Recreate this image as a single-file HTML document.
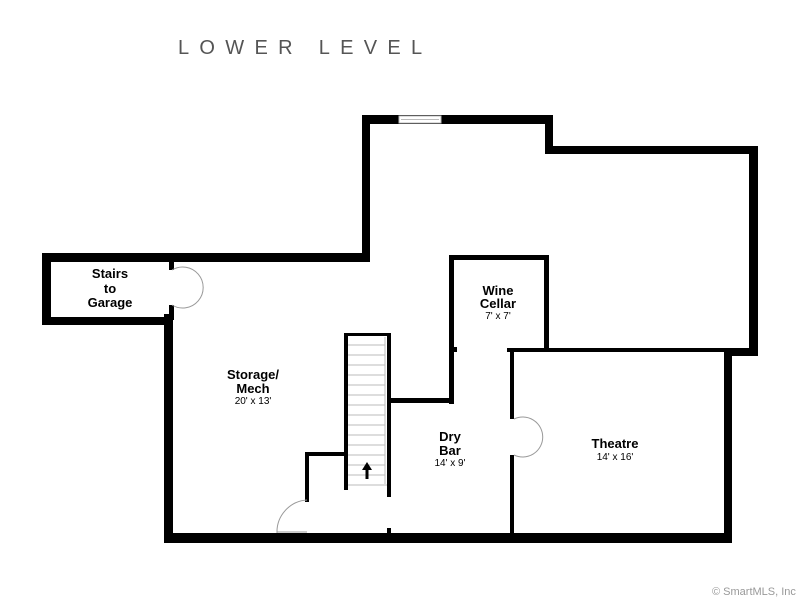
<!DOCTYPE html>
<html><head><meta charset="utf-8"><style>
html,body{margin:0;padding:0;background:#fff;width:800px;height:600px;overflow:hidden}
svg{display:block}
text{font-family:"Liberation Sans",Arial,sans-serif}
</style></head><body>
<svg width="800" height="600" viewBox="0 0 800 600" xmlns="http://www.w3.org/2000/svg">
<rect width="800" height="600" fill="#fff"/>
<text x="178" y="54" font-size="20" fill="#555" letter-spacing="10.3" style="font-family:'Liberation Sans',sans-serif;font-weight:normal">LOWER LEVEL</text>
<g fill="#000">
<rect x="362" y="115" width="191" height="9"/>
<rect x="362" y="115" width="8" height="146"/>
<rect x="545" y="115" width="8" height="39"/>
<rect x="545" y="146" width="213" height="8"/>
<rect x="749" y="146" width="9" height="210"/>
<rect x="724" y="348" width="34" height="8"/>
<rect x="724" y="348" width="8" height="195"/>
<rect x="164" y="533" width="568" height="10"/>
<rect x="164" y="314" width="9" height="229"/>
<rect x="42" y="253" width="328" height="9"/>
<rect x="42" y="253" width="9" height="72"/>
<rect x="42" y="317" width="131" height="8"/>
<rect x="169" y="253" width="5" height="17"/>
<rect x="169" y="305" width="5" height="15"/>
<rect x="449" y="255" width="100" height="5"/>
<rect x="449" y="255" width="5" height="149"/>
<rect x="544" y="255" width="5" height="97"/>
<rect x="454" y="347" width="3" height="5"/>
<rect x="507" y="348" width="220" height="4"/>
<rect x="510" y="348" width="4" height="71"/>
<rect x="510" y="455" width="4" height="80"/>
<rect x="388" y="398" width="66" height="5"/>
<rect x="344" y="333" width="4" height="157"/>
<rect x="344" y="333" width="47" height="3"/>
<rect x="387" y="333" width="4" height="164"/>
<rect x="387" y="528" width="4" height="8"/>
<rect x="305" y="452" width="42" height="4"/>
<rect x="305" y="452" width="4" height="50"/>
</g>
<rect x="399" y="116" width="42" height="7" fill="#fff" stroke="#bbb" stroke-width="1"/>
<line x1="401" y1="119.5" x2="439" y2="119.5" stroke="#bbb"/>
<g stroke="#bbb" stroke-width="1">
<line x1="385" y1="337" x2="385" y2="484"/>
<line x1="348" y1="345" x2="385" y2="345"/>
<line x1="348" y1="355" x2="385" y2="355"/>
<line x1="348" y1="365" x2="385" y2="365"/>
<line x1="348" y1="375" x2="385" y2="375"/>
<line x1="348" y1="385" x2="385" y2="385"/>
<line x1="348" y1="395" x2="385" y2="395"/>
<line x1="348" y1="405" x2="385" y2="405"/>
<line x1="348" y1="415" x2="385" y2="415"/>
<line x1="348" y1="425" x2="385" y2="425"/>
<line x1="348" y1="435" x2="385" y2="435"/>
<line x1="348" y1="445" x2="385" y2="445"/>
<line x1="348" y1="455" x2="385" y2="455"/>
<line x1="348" y1="465" x2="385" y2="465"/>
<line x1="348" y1="475" x2="385" y2="475"/>
<line x1="348" y1="485" x2="387" y2="485"/>
</g>
<path d="M367 462 L362 470 L365.5 470 L365.5 479 L368.5 479 L368.5 470 L372 470 Z" fill="#000"/>
<g fill="none" stroke="#999" stroke-width="1">
<path d="M172 270 A20.5 20.5 0 1 1 172 305"/>
<path d="M514 419 A20 20 0 1 1 514 455"/>
<path d="M307 500 A32 32 0 0 0 277 533"/>
<line x1="277" y1="532" x2="307" y2="532"/>
</g>
<g text-anchor="middle" fill="#000">
<text x="110" y="278" font-size="13" font-weight="bold">Stairs</text>
<text x="110" y="293" font-size="13" font-weight="bold">to</text>
<text x="110" y="307" font-size="13" font-weight="bold">Garage</text>
<text x="253" y="379" font-size="13" font-weight="bold">Storage/</text>
<text x="253" y="393" font-size="13" font-weight="bold">Mech</text>
<text x="253" y="404" font-size="10">20' x 13'</text>
<text x="498" y="295" font-size="13" font-weight="bold">Wine</text>
<text x="498" y="308" font-size="13" font-weight="bold">Cellar</text>
<text x="498" y="319" font-size="10">7' x 7'</text>
<text x="450" y="441" font-size="13" font-weight="bold">Dry</text>
<text x="450" y="455" font-size="13" font-weight="bold">Bar</text>
<text x="450" y="466" font-size="10">14' x 9'</text>
<text x="615" y="448" font-size="13" font-weight="bold">Theatre</text>
<text x="615" y="460" font-size="10">14' x 16'</text>
</g>
<text x="712" y="595" font-size="11" fill="#999">© SmartMLS, Inc</text>
</svg>
</body></html>
